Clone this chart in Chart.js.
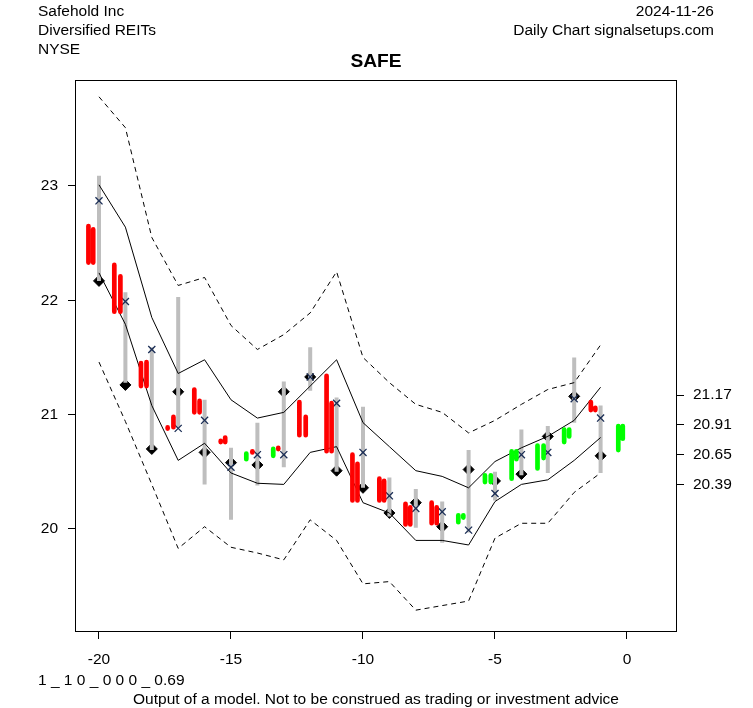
<!DOCTYPE html>
<html><head><meta charset="utf-8">
<script src="https://cdn.jsdelivr.net/npm/chart.js@4.4.1/dist/chart.umd.min.js"></script>
<style>
html,body{margin:0;padding:0;background:#fff;}
#wrap{position:relative;width:753px;height:708px;overflow:hidden;background:#fff;}
canvas{position:absolute;left:0;top:0;}
.t{position:absolute;font-family:"Liberation Sans",Arial,sans-serif;font-size:15.5px;line-height:1;white-space:nowrap;color:#000;}
</style></head><body>
<div id="wrap">
<canvas id="c" width="753" height="708"></canvas>
<div class="t" style="left:38px;top:3px">Safehold Inc</div>
<div class="t" style="left:38px;top:22px">Diversified REITs</div>
<div class="t" style="left:38px;top:41px">NYSE</div>
<div class="t" style="right:39px;top:3px">2024-11-26</div>
<div class="t" style="right:39px;top:22px">Daily Chart signalsetups.com</div>
<div class="t" style="left:0;width:752px;text-align:center;top:51px;font-weight:bold;font-size:19.2px">SAFE</div>
<div class="t" style="left:38px;top:672px">1 _ 1 0 _ 0 0 0 _ 0.69</div>
<div class="t" style="left:0;width:752px;text-align:center;top:691px">Output of a model. Not to be construed as trading or investment advice</div>
</div>
<script>
// ---- data ----
const days = [-20,-19,-18,-17,-16,-15,-14,-13,-12,-11,-10,-9,-8,-7,-6,-5,-4,-3,-2,-1];
const upperBand = [23.01,22.64,21.85,21.36,21.48,21.13,20.97,21.02,21.25,21.48,20.93,20.72,20.51,20.46,20.36,20.59,20.71,20.81,20.95,21.24];
const lowerBand = [22.24,21.79,21.08,20.60,20.75,20.49,20.40,20.39,20.67,20.72,20.23,20.14,19.90,19.90,19.86,20.24,20.39,20.43,20.60,20.80];
const upperOuter = [23.78,23.51,22.55,22.13,22.20,21.78,21.57,21.70,21.89,22.25,21.50,21.28,21.09,21.02,20.84,20.95,21.09,21.22,21.28,21.61];
const lowerOuter = [21.46,20.94,20.39,19.83,20.02,19.84,19.79,19.73,20.08,19.90,19.52,19.54,19.29,19.33,19.37,19.92,20.05,20.05,20.32,20.49];
const rangeHigh = [23.09,22.07,21.59,22.03,21.13,20.71,20.93,21.29,21.59,21.15,21.07,20.45,20.35,20.24,20.69,20.50,20.87,20.90,21.50,21.08];
const rangeLow  = [22.17,21.28,20.69,20.89,20.39,20.08,20.38,20.54,21.21,20.50,20.36,20.11,20.01,19.88,19.97,20.25,20.47,20.49,20.93,20.49];
const diamondVals = [22.17,21.26,20.70,21.20,20.67,20.58,20.56,21.20,21.33,20.51,20.36,20.14,20.23,20.02,20.52,20.42,20.48,20.81,21.16,20.64];
const crossVals = [22.87,21.99,21.57,20.88,20.95,20.54,20.65,20.65,21.33,21.10,20.67,20.29,20.18,20.15,19.99,20.31,20.65,20.67,21.14,20.97];

// colored sub-bars (two per session)
const barAX   = [-20.40,-19.42,-18.41,-17.40,-16.39,-15.39,-14.42,-13.40,-12.41,-11.38,-10.40,-9.38,-8.39,-7.40,-6.39,-5.38,-4.37,-3.39,-2.38,-1.37,-0.33];
const barATop = [22.65,22.31,21.45,20.888,21.22,20.770,20.66,20.70,21.11,21.34,20.65,20.44,20.22,20.23,20.12,20.47,20.68,20.73,20.87,21.11,20.90];
const barABot = [22.33,21.90,21.25,20.878,21.02,20.760,20.61,20.64,20.82,20.68,20.25,20.25,20.04,20.05,20.06,20.41,20.44,20.53,20.76,21.04,20.69];
const barADir = ['down','down','down','down','down','down','up','up','down','down','down','down','down','down','up','up','up','up','up','down','up'];
const barBX   = [-20.22,-19.19,-18.20,-17.18,-16.19,-15.22,-14.19,-13.21,-12.17,-11.19,-10.21,-9.20,-8.21,-7.21,-6.20,-5.16,-4.19,-3.16,-2.19,-1.20,-0.16];
const barBTop = [22.62,22.21,21.46,20.98,21.12,20.80,20.68,20.709,20.98,21.10,20.57,20.42,20.19,20.19,20.12,20.47,20.68,20.73,20.87,21.06,20.90];
const barBBot = [22.33,21.90,21.25,20.89,21.02,20.76,20.67,20.699,20.82,20.68,20.25,20.25,20.04,20.05,20.10,20.41,20.61,20.62,20.81,21.04,20.79];
const barBDir = ['down','down','down','down','down','down','down','down','down','down','down','down','down','down','up','up','up','up','up','down','up'];

const xTicks = [-20,-15,-10,-5,0];
const yTicks = [20,21,22,23];
const yRightTicks = [20.39,20.65,20.91,21.17];

// ---- helpers ----
function pts(vals){ return days.map((d,i)=>({x:d,y:vals[i]})); }
function segs(xs, tops, bots){
  const out=[];
  xs.forEach((x,i)=>{ out.push({x:x,y:tops[i]},{x:x,y:bots[i]},{x:x,y:null}); });
  return out;
}
function dirSegs(dir){
  const out=[];
  const add=(xs,t,b,d)=>xs.forEach((x,i)=>{ if(d[i]===dir){ out.push({x:x,y:t[i]},{x:x,y:b[i]},{x:x,y:null}); } });
  add(barAX,barATop,barABot,barADir);
  add(barBX,barBTop,barBBot,barBDir);
  return out;
}

const FONT = {family:'"Liberation Sans", Arial, sans-serif', size:15.5};
Chart.defaults.color = '#000';
Chart.defaults.font = FONT;

const boxPlugin = {
  id:'box',
  afterDatasetsDraw(chart){
    const a=chart.chartArea, ctx=chart.ctx;
    ctx.save(); ctx.strokeStyle='#000'; ctx.lineWidth=1;
    ctx.strokeRect(Math.round(a.left)+0.5, Math.round(a.top)+0.5, Math.round(a.right-a.left)-1, Math.round(a.bottom-a.top)-1);
    ctx.restore();
  }
};

const lineBase = {type:'line', pointRadius:0, tension:0, fill:false, borderColor:'#000', borderWidth:1, spanGaps:false};

new Chart(document.getElementById('c'), {
  type:'line',
  data:{ datasets:[
    {type:'line', data:dirSegs('down'), borderColor:'#FF0000', borderWidth:4.7, borderCapStyle:'round', pointRadius:0, spanGaps:false, tension:0},
    {type:'line', data:dirSegs('up'), borderColor:'#00FF00', borderWidth:4.7, borderCapStyle:'round', pointRadius:0, spanGaps:false, tension:0},
    {type:'line', data:pts(crossVals), showLine:false, pointStyle:'crossRot', pointRadius:5, borderColor:'#1a2d55', pointBorderWidth:1.3, pointBorderColor:'#1a2d55'},
    Object.assign({}, lineBase, {data:pts(upperBand)}),
    Object.assign({}, lineBase, {data:pts(lowerBand)}),
    Object.assign({}, lineBase, {data:pts(upperOuter), borderDash:[5,4]}),
    Object.assign({}, lineBase, {data:pts(lowerOuter), borderDash:[5,4]}),
    {type:'line', data:segs(days, rangeHigh, rangeLow), borderColor:'#BEBEBE', borderWidth:4, borderCapStyle:'butt', pointRadius:0, spanGaps:false, tension:0},
    {type:'line', data:pts(diamondVals), showLine:false, pointStyle:'rectRot', pointRadius:5.5, pointBackgroundColor:'#000', pointBorderColor:'#000', pointBorderWidth:1}
  ]},
  options:{
    responsive:false, animation:false, devicePixelRatio:1,
    layout:{padding:{top:80,left:0,right:0,bottom:0}},
    plugins:{legend:{display:false}, title:{display:false}, tooltip:{enabled:false}},
    events:[],
    scales:{
      x:{type:'linear', position:'bottom', min:-20.909, max:1.894,
         afterBuildTicks:s=>{s.ticks=xTicks.map(v=>({value:v}));},
         afterFit:s=>{s.height=76;},
         grid:{drawOnChartArea:false, drawTicks:true, tickLength:7, color:'#000'},
         border:{display:false},
         ticks:{padding:11, maxRotation:0, autoSkip:false, font:FONT, callback:v=>String(v)}},
      y:{type:'linear', position:'left', min:19.099, max:23.927,
         afterBuildTicks:s=>{s.ticks=yTicks.map(v=>({value:v}));},
         afterFit:s=>{s.width=75;},
         grid:{drawOnChartArea:false, drawTicks:true, tickLength:7, color:'#000'},
         border:{display:false},
         ticks:{padding:10, autoSkip:false, font:FONT, callback:v=>String(v)}},
      y2:{type:'linear', position:'right', min:19.099, max:23.927,
         afterBuildTicks:s=>{s.ticks=yRightTicks.map(v=>({value:v}));},
         afterFit:s=>{s.width=76;},
         grid:{drawOnChartArea:false, drawTicks:true, tickLength:7, color:'#000'},
         border:{display:false},
         ticks:{padding:9, autoSkip:false, font:FONT, callback:v=>v.toFixed(2)}}
    }
  },
  plugins:[boxPlugin]
});
</script>
</body></html>
